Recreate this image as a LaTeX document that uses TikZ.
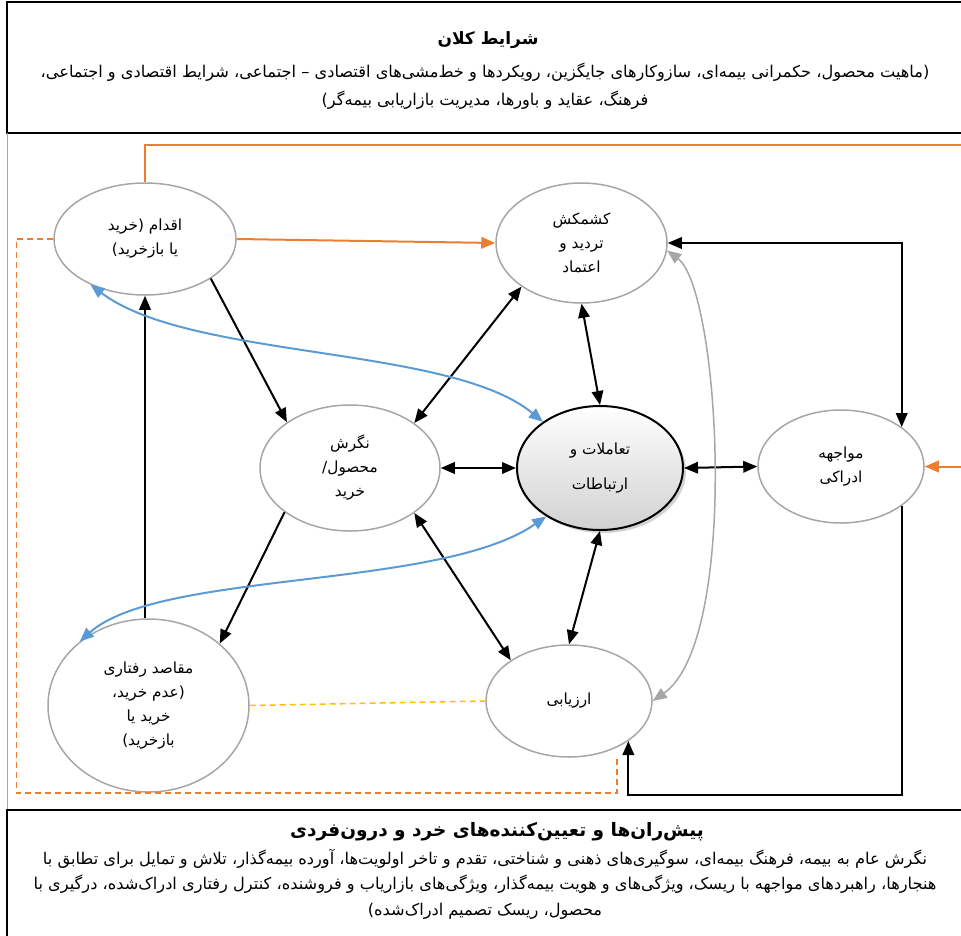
\documentclass[tikz,border=0pt]{standalone}
\usepackage{fontspec}
\newfontfamily\fa[Script=Arabic]{DejaVu Sans}
\TeXXeTstate=1
\usetikzlibrary{shapes.geometric,arrows.meta,shadows}
\definecolor{ellgray}{HTML}{A6A6A6}
\definecolor{linkorange}{HTML}{ED7D31}
\definecolor{linkblue}{HTML}{5B9BD5}
\definecolor{linkyellow}{HTML}{FFC000}
\tikzset{
  phase/.style={ellipse, draw=ellgray, line width=1.5pt, inner sep=0pt, align=center,
    font=\fa\fontsize{15.3}{24}\selectfont},
  tip/.tip={Triangle[length=14pt,width=11.5pt]},
  onelink/.style={line width=2pt, -tip},
  twolink/.style={line width=2pt, tip-tip}
}
\begin{document}
\begin{tikzpicture}[x=1pt,y=-1pt]
\useasboundingbox (0,0) rectangle (961,935);

%draw frames
\draw[line width=2.5pt] (962,2) -- (7,2) -- (7,133) -- (962,133);
\draw[ellgray, line width=1.5pt] (7.5,133) -- (7.5,810);
\draw[line width=2.5pt] (962,810) -- (7,810) -- (7,936);

%frame texts
\node[inner sep=0pt] (macrohead) at (488,40) {\fa\bfseries\fontsize{17}{20}\selectfont\beginR شرایط کلان\endR};
\node[inner sep=0pt, align=center, font=\fa\fontsize{16.2}{28}\selectfont] (macrotext) at (485,86)
  {\beginR (ماهیت محصول، حکمرانی بیمه^^^^200cای، سازوکارهای جایگزین، رویکردها و خط^^^^200cمشی^^^^200cهای اقتصادی – اجتماعی، شرایط اقتصادی و اجتماعی،\endR\\
   \beginR فرهنگ، عقاید و باورها، مدیریت بازاریابی بیمه^^^^200cگر)\endR};
\node[inner sep=0pt] (microhead) at (497,832) {\fa\bfseries\fontsize{18.5}{20}\selectfont\beginR پیش^^^^200cران^^^^200cها و تعیین^^^^200cکننده^^^^200cهای خرد و درون^^^^200cفردی\endR};
\node[inner sep=0pt, align=center, font=\fa\fontsize{16.2}{25.5}\selectfont] (microtext) at (485,884)
  {\beginR نگرش عام به بیمه، فرهنگ بیمه^^^^200cای، سوگیری^^^^200cهای ذهنی و شناختی، تقدم و تاخر اولویت^^^^200cها، آورده بیمه^^^^200cگذار، تلاش و تمایل برای تطابق با\endR\\
   \beginR هنجارها، راهبردهای مواجهه با ریسک، ویژگی^^^^200cهای و هویت بیمه^^^^200cگذار، ویژگی^^^^200cهای بازاریاب و فروشنده، کنترل رفتاری ادراک^^^^200cشده، درگیری با\endR\\
   \beginR محصول، ریسک تصمیم ادراک^^^^200cشده)\endR};

%ellipses
\node[phase, minimum width=182pt, minimum height=112pt] (act) at (145,239)
  {\beginR اقدام (خرید\endR\\\beginR یا بازخرید)\endR};
\node[phase, minimum width=171pt, minimum height=120pt] (doubt) at (581.5,243)
  {\beginR کشمکش\endR\\\beginR تردید و\endR\\\beginR اعتماد\endR};
\node[phase, minimum width=180pt, minimum height=126pt] (attitude) at (350,468)
  {\beginR نگرش\endR\\\beginR محصول/\endR\\\beginR خرید\endR};
\node[phase, draw=black, line width=2pt, minimum width=166pt, minimum height=124pt,
  top color=white, bottom color=black!18,
  drop shadow={opacity=0.35, shadow xshift=3pt, shadow yshift=-3pt}] (deal) at (600,468)
  {\beginR تعاملات و\endR\\[11pt]\beginR ارتباطات\endR};
\node[phase, minimum width=166pt, minimum height=113pt] (facing) at (841,466.5)
  {\beginR مواجهه\endR\\\beginR ادراکی\endR};
\node[phase, minimum width=201pt, minimum height=173pt] (intent) at (148.5,705.5)
  {\beginR مقاصد رفتاری\endR\\\beginR (عدم خرید،\endR\\\beginR خرید یا\endR\\\beginR بازخرید)\endR};
\node[phase, minimum width=166pt, minimum height=112pt] (judge) at (569,701)
  {\beginR ارزیابی\endR};

%free ends
\coordinate (rightout) at (961,145);
\coordinate (rightin) at (961,466.5);
\coordinate (dashend) at (617,757);

%orange links
\draw[linkorange, line width=2pt] (act.north) |- (rightout);
\draw[linkorange, onelink] (act.east) -- (doubt.west);
\draw[linkorange, onelink] (rightin) -- (facing.east);
\draw[linkorange, line width=1.5pt, dash pattern=on 6pt off 4pt] (act.west) -- ++(-37,0) |- (dashend |- 0,793) -- (dashend);

%black links
\draw[onelink] (act.-31) -- (attitude.144.5);
\draw[onelink] (act.south |- intent.north) -- (act.south);
\draw[onelink] (attitude.214.5) -- (intent.41);
\draw[twolink] (attitude.35.5) -- (doubt.216.5);
\draw[twolink] (attitude.east) -- (deal.west);
\draw[twolink] (doubt.south) -- (deal.north);
\draw[twolink] (deal.east) -- (facing.west);
\draw[twolink] (deal.south) -- (judge.north);
\draw[twolink] (attitude.-35) -- (judge.145);
\draw[twolink] (doubt.east) -| (facing.33);
\draw[onelink] (facing.-33) -- ++(0,289.5) -| (judge.-34);

%blue links
\draw[linkblue, twolink] (act.220) .. controls (190,360) and (450,345) .. (deal.141);
\draw[linkblue, twolink] (intent.137) .. controls (160,570) and (440,590) .. (deal.222);

%gray link
\draw[ellgray, line width=1.5pt, tip-tip] (judge.east) .. controls (740,640) and (720,290) .. (doubt.-5);

%yellow link
\draw[linkyellow, line width=1.5pt, dash pattern=on 6pt off 4pt] (intent.east) -- (judge.west);
\end{tikzpicture}
\end{document}
